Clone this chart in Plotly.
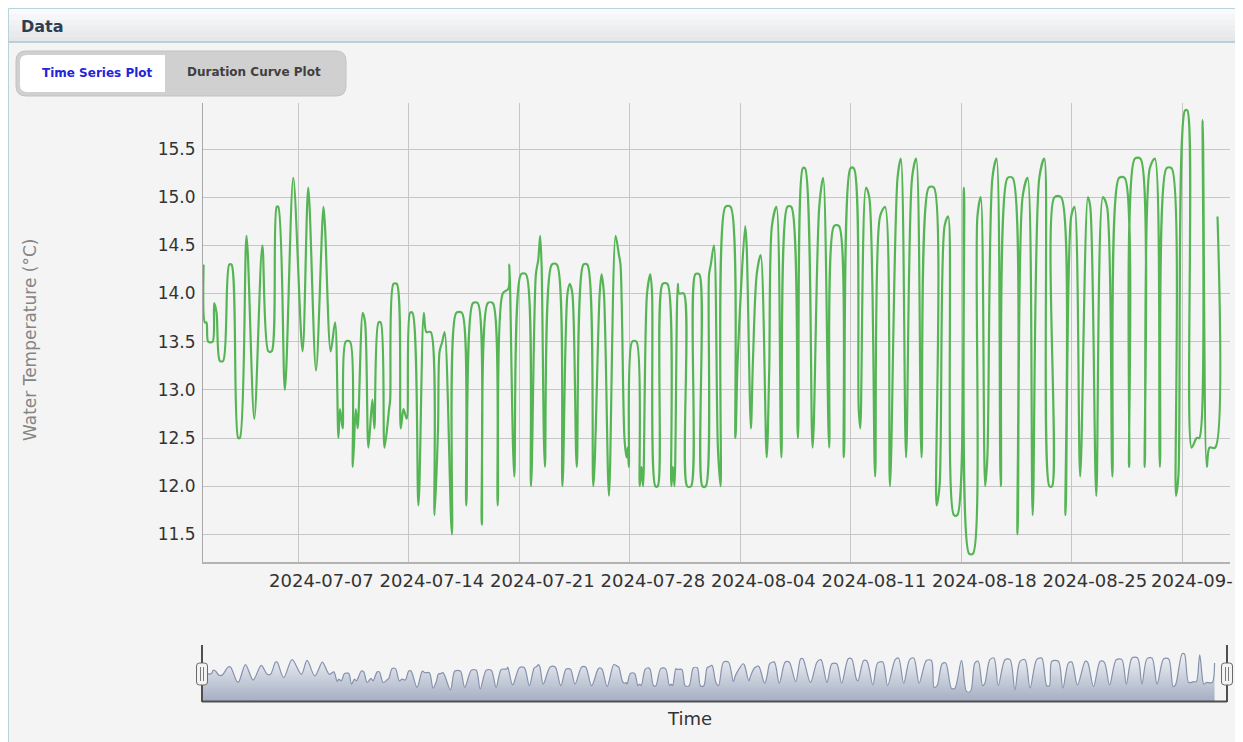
import pandas as pd
import plotly.graph_objects as go

# ---------------- data ----------------
# elapsed days since 2024-07-01 00:00 and water temperature (°C) at turning points
july_days = [0.00, 0.08, 0.18, 0.29, 0.57, 0.67, 0.82, 1.03, 1.24, 1.62, 1.77, 2.19, 2.30, 2.72, 3.21,
             3.72, 4.10, 4.31, 4.63, 4.73, 5.15, 5.68, 6.27, 6.63, 7.12, 7.59, 7.69, 8.05, 8.33, 8.54,
             8.64, 8.81, 9.00, 9.28, 9.45, 9.64, 9.76, 10.08, 10.23, 10.44, 10.69, 10.82, 11.08, 11.22,
             11.46, 11.75, 11.82, 12.03, 12.24, 12.49, 12.66, 12.87, 13.08, 13.23, 13.61, 13.95]
july_temp = [14.3, 13.7, 13.7, 13.5, 13.5, 13.9, 13.8, 13.3, 13.3, 14.3, 14.3, 12.5, 12.5, 14.6, 12.7,
             14.5, 13.4, 13.4, 14.9, 14.9, 13.0, 15.2, 13.4, 15.1, 13.2, 14.9, 14.7, 13.4, 13.7, 12.5,
             12.8, 12.6, 13.5, 13.5, 12.2, 12.8, 12.6, 13.8, 13.7, 12.4, 12.9, 12.6, 13.7, 13.7,
             12.4, 12.8, 12.9, 14.1, 14.1, 12.6, 12.8, 12.7, 13.8, 13.8, 11.8, 13.8]

late_july_days = [14.11, 14.39, 14.63, 14.85, 14.95, 15.12, 15.27, 15.73, 16.01, 16.36, 16.64, 17.06,
                  17.37, 17.62, 18.00, 18.32, 18.63, 18.95, 19.31, 19.37, 19.68, 20.11, 20.42, 20.74,
                  21.05, 21.20, 21.32, 21.41, 21.62, 22.06, 22.38, 22.73, 23.05, 23.20, 23.36, 23.64,
                  24.06, 24.31, 24.69, 25.09, 25.21, 25.36, 25.68, 26.10, 26.31, 26.41, 26.66, 26.79,
                  26.87, 26.94, 27.15, 27.42, 27.63, 27.74, 27.84, 28.09, 28.30, 28.41, 28.62, 28.77,
                  29.08, 29.38]
late_july_temp = [13.6, 13.6, 11.7, 12.6, 13.4, 13.5, 13.6, 11.5, 13.8, 13.8, 11.8, 13.9,
                  13.9, 11.6, 13.9, 13.9, 11.8, 14.0, 14.05, 14.3, 12.1, 14.2, 14.2, 12.0,
                  14.2, 14.35, 14.6, 14.3, 12.2, 14.3, 14.3, 12.0, 14.0, 14.1, 14.0, 12.2,
                  14.3, 14.3, 12.0, 14.0, 14.2, 14.0, 11.9, 14.6, 14.4, 14.3, 12.5, 12.3,
                  12.4, 12.2, 13.5, 13.5, 12.0, 12.2, 12.0, 14.0, 14.2, 14.0, 12.0, 12.0,
                  14.1, 14.1]

aug_days = [29.63, 29.73, 29.83, 30.04, 30.12, 30.42, 30.63, 30.88, 31.15, 31.40, 31.60, 31.81,
            32.02, 32.13, 32.33, 32.58, 32.75, 33.06, 33.38, 33.69, 33.83, 34.31, 34.40, 34.67,
            34.80, 35.04, 35.29, 35.67, 35.83, 36.00, 36.29, 36.60, 36.98, 37.23, 37.65, 37.96,
            38.10, 38.58, 39.00, 39.25, 39.63, 39.94, 40.25, 40.56, 40.98, 41.19, 41.50, 41.60,
            41.96, 42.17, 42.54, 42.85, 43.17, 43.48, 43.96, 44.17]
aug_temp = [12.0, 12.2, 12.0, 14.1, 14.0, 14.0, 12.0, 12.0, 14.2, 14.2, 12.0, 12.0,
            14.2, 14.3, 14.5, 12.4, 12.0, 14.9, 14.9, 12.5, 13.3, 14.7, 14.5, 12.6,
            13.3, 14.2, 14.4, 12.3, 13.2, 14.7, 14.9, 12.3, 14.9, 14.9, 12.5, 15.3,
            15.3, 12.4, 14.9, 15.2, 12.4, 14.7, 14.7, 12.3, 15.3, 15.3, 12.8, 12.6,
            15.1, 15.0, 12.1, 14.8, 14.9, 12.0, 15.2, 15.4]

late_aug_days = [44.50, 44.88, 45.14, 45.48, 45.94, 46.26, 46.43, 46.62, 46.94, 47.17, 47.53, 47.75,
                 48.17, 48.49, 48.74, 49.02, 49.23, 49.51, 49.65, 49.97, 50.23, 50.50, 50.93, 51.25,
                 51.56, 51.88, 52.20, 52.52, 52.94, 53.26, 53.58, 53.75, 53.90, 54.32, 54.60, 54.96,
                 55.17, 55.53, 56.02, 56.17, 56.55, 56.97, 57.23, 57.57, 57.99, 58.35, 58.63, 58.99,
                 59.35, 59.62, 59.94, 60.26, 60.58, 61.00, 61.32, 61.60, 61.75, 62.17, 62.32, 62.59,
                 62.91, 63.08, 63.29, 63.55, 63.72, 64.08, 64.23]
late_aug_temp = [12.3, 15.2, 15.4, 12.3, 15.1, 15.1, 11.8, 12.0, 14.7, 14.8, 11.7, 11.7,
                 15.1, 11.3, 11.3, 14.8, 15.0, 12.0, 12.3, 15.2, 15.4, 12.0, 15.2, 15.2,
                 11.5, 15.0, 15.2, 11.7, 15.2, 15.4, 12.0, 12.0, 15.0, 15.0, 11.7, 14.8,
                 14.9, 12.1, 15.0, 14.9, 11.9, 15.0, 14.9, 12.1, 15.2, 15.2, 12.2, 15.4,
                 15.4, 12.2, 15.3, 15.4, 12.2, 15.3, 15.3, 11.9, 12.1, 15.9, 15.9, 12.4,
                 12.5, 12.5, 15.8, 12.2, 12.4, 12.4, 14.8]

start_date = "2024-07-01"
tick_dates = ["2024-07-07", "2024-07-14", "2024-07-21", "2024-07-28", "2024-08-04",
              "2024-08-11", "2024-08-18", "2024-08-25", "2024-09-01"]
y_ticks = [11.5, 12.0, 12.5, 13.0, 13.5, 14.0, 14.5, 15.0, 15.5]

days = july_days + late_july_days + aug_days + late_aug_days
temps = july_temp + late_july_temp + aug_temp + late_aug_temp
times = pd.Timestamp(start_date) + pd.to_timedelta(days, unit="D")

# ---------------- layout helpers ----------------
# the page body has an 8px margin, so the figure origin sits at (8, 8) of the window
OX, OY = 8, 8
FW, FH = 1235, 734
def px(x):
    return (x - OX) / FW
def py(y):
    return 1 - (y - OY) / FH

FONT = "DejaVu Sans"
TICK_SHIFT = 23

fig = go.Figure()

fig.add_trace(go.Scatter(
    x=times, y=temps, mode="lines",
    line=dict(color="#55b555", width=2.2, shape="spline", smoothing=0.85),
    xaxis="x", yaxis="y", showlegend=False, hoverinfo="skip"))

fig.add_trace(go.Scatter(
    x=times, y=temps, mode="lines",
    line=dict(color="#8592ad", width=1.2, shape="spline", smoothing=0.85),
    fill="tozeroy",
    fillgradient=dict(type="vertical", colorscale=[[0, "#a3adc2"], [1, "#ffffff"]],
                      start=10.0, stop=17.0),
    xaxis="x2", yaxis="y2", showlegend=False, hoverinfo="skip"))

x_range = ["2024-06-30 23:05", "2024-09-04 00:30"]

shapes = []
# panel
shapes.append(dict(type="rect", xref="paper", yref="paper", x0=px(8.5), x1=px(1241), y0=py(745), y1=py(8.5),
                   fillcolor="#f4f4f4", line=dict(color="#b9d2de", width=1), layer="below"))
# header gradient bands
band_cols = ["#f9fafb", "#f5f6f7", "#f1f2f3", "#edeef0", "#e9eaec", "#e6e7e9"]
for i, c in enumerate(band_cols):
    y0 = 9 + i * 33 / len(band_cols)
    y1 = 9 + (i + 1) * 33 / len(band_cols)
    shapes.append(dict(type="rect", xref="paper", yref="paper", x0=px(9), x1=px(1240.5),
                       y0=py(y1), y1=py(y0), fillcolor=c, line=dict(width=0), layer="below"))
shapes.append(dict(type="line", xref="paper", yref="paper", x0=px(8.5), x1=px(1241), y0=py(42), y1=py(42),
                   line=dict(color="#a9c4d2", width=1.5), layer="below"))

def rounded(x0, y0, x1, y1, r, left=True, right=True):
    X = lambda v: f"{px(v):.6f}"
    Y = lambda v: f"{py(v):.6f}"
    p = ""
    if left:
        p += f"M {X(x0 + r)},{Y(y0)} "
    else:
        p += f"M {X(x0)},{Y(y0)} "
    if right:
        p += f"L {X(x1 - r)},{Y(y0)} Q {X(x1)},{Y(y0)} {X(x1)},{Y(y0 + r)} "
        p += f"L {X(x1)},{Y(y1 - r)} Q {X(x1)},{Y(y1)} {X(x1 - r)},{Y(y1)} "
    else:
        p += f"L {X(x1)},{Y(y0)} L {X(x1)},{Y(y1)} "
    if left:
        p += f"L {X(x0 + r)},{Y(y1)} Q {X(x0)},{Y(y1)} {X(x0)},{Y(y1 - r)} "
        p += f"L {X(x0)},{Y(y0 + r)} Q {X(x0)},{Y(y0)} {X(x0 + r)},{Y(y0)} Z"
    else:
        p += f"L {X(x0)},{Y(y1)} Z"
    return p

# button group
shapes.append(dict(type="path", xref="paper", yref="paper", path=rounded(16, 51, 346, 96, 10),
                   fillcolor="#d0d0d0", line=dict(color="#c2c2c2", width=1), layer="below"))
shapes.append(dict(type="path", xref="paper", yref="paper", path=rounded(20, 55, 165, 92, 7, right=False),
                   fillcolor="#ffffff", line=dict(width=0), layer="below"))

# range selector frame
dark = "#4f4f4f"
shapes.append(dict(type="line", xref="paper", yref="paper", x0=px(202), x1=px(1227), y0=py(701.5), y1=py(701.5),
                   line=dict(color=dark, width=2), layer="above"))
for xv in (202, 1227):
    shapes.append(dict(type="line", xref="paper", yref="paper", x0=px(xv), x1=px(xv), y0=py(702), y1=py(645),
                       line=dict(color=dark, width=2), layer="above"))
    shapes.append(dict(type="path", xref="paper", yref="paper", path=rounded(xv - 5.5, 663, xv + 5.5, 685, 3),
                       fillcolor="#f3f3f3", line=dict(color="#6a6a6a", width=1), layer="above"))
    for dx in (-1.5, 1.5):
        shapes.append(dict(type="line", xref="paper", yref="paper", x0=px(xv + dx), x1=px(xv + dx),
                           y0=py(681), y1=py(667), line=dict(color="#7a7a7a", width=1), layer="above"))

# panel's right border
shapes.append(dict(type="rect", xref="paper", yref="paper", x0=px(1241.5), x1=1.02, y0=-0.02, y1=1.02,
                   fillcolor="#ffffff", line=dict(width=0), layer="above"))
shapes.append(dict(type="line", xref="paper", yref="paper", x0=px(1241), x1=px(1241), y0=py(745), y1=py(8.5),
                   line=dict(color="#b9d2de", width=1), layer="above"))

# the last date label is cut by the panel edge in the reference: show its visible part only
last_label = tick_dates[-1][:8]
tick_text = tick_dates[:-1] + [""]

annotations = [
    dict(text="<b>Data</b>", x=px(19), y=py(27), xref="paper", yref="paper", xanchor="left", yanchor="middle",
         showarrow=False, font=dict(family=FONT, size=16, color="#2e3d50")),
    dict(text="<b>Time Series Plot</b>", x=px(97), y=py(73), xref="paper", yref="paper", xanchor="center",
         yanchor="middle", showarrow=False, font=dict(family=FONT, size=12, color="#2424d8")),
    dict(text="<b>Duration Curve Plot</b>", x=px(254), y=py(72), xref="paper", yref="paper", xanchor="center",
         yanchor="middle", showarrow=False, font=dict(family=FONT, size=12, color="#404040")),
    dict(text="Water Temperature (°C)", x=px(30), y=py(340), xref="paper", yref="paper", textangle=-90,
         xanchor="center", yanchor="middle", showarrow=False, font=dict(family=FONT, size=17, color="#858585")),
    dict(text="Time", x=px(690), y=py(718), xref="paper", yref="paper", xanchor="center", yanchor="middle",
         showarrow=False, font=dict(family=FONT, size=18, color="#333333")),
    dict(text=last_label, x=tick_dates[-1], xref="x", y=py(580), yref="paper", xanchor="left",
         yanchor="middle", xshift=TICK_SHIFT - 56, showarrow=False,
         font=dict(family=FONT, size=18, color="#333333")),
]

fig.update_layout(
    width=FW, height=FH,
    margin=dict(l=0, r=0, t=0, b=0),
    paper_bgcolor="#ffffff", plot_bgcolor="rgba(0,0,0,0)",
    shapes=shapes, annotations=annotations, showlegend=False,
    xaxis=dict(domain=[px(203), px(1230)], range=x_range, type="date",
               tickvals=tick_dates, ticktext=tick_text, showgrid=True, gridcolor="#c6c6c6", gridwidth=1,
               showline=True, linecolor="#b3b3b3", linewidth=2, zeroline=False, ticks="",
               ticklabelshift=TICK_SHIFT, ticklabelstandoff=2,
               tickfont=dict(family=FONT, size=18, color="#333333"), fixedrange=True),
    yaxis=dict(domain=[py(561.5), py(103)], range=[11.218, 15.978],
               tickvals=y_ticks, ticktext=[f"{v:.1f}" for v in y_ticks],
               showgrid=True, gridcolor="#c6c6c6", gridwidth=1,
               showline=True, linecolor="#a8a8a8", linewidth=1, zeroline=False, ticks="",
               ticklabelstandoff=3,
               tickfont=dict(family=FONT, size=17, color="#333333"), fixedrange=True),
    xaxis2=dict(domain=[px(202), px(1227)], range=x_range, type="date", visible=False, anchor="y2",
                fixedrange=True),
    yaxis2=dict(domain=[py(702), py(645)], range=[10.0, 17.0], visible=False, anchor="x2",
                fixedrange=True),
)

fig.write_html("out.html")
